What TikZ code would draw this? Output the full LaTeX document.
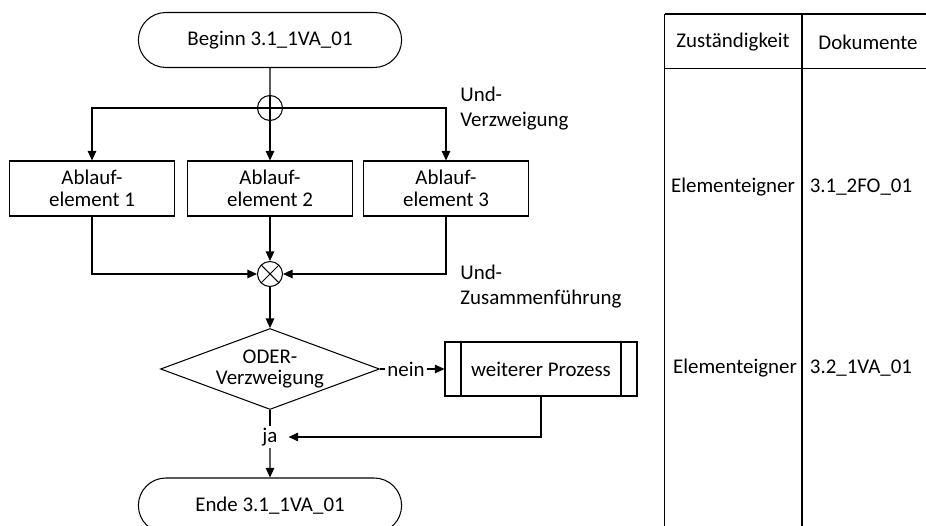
\documentclass[tikz,border=0pt]{standalone}
\usepackage{fontspec}
\setmainfont{Carlito}
\usepackage{tikz}
\usetikzlibrary{calc}
\usetikzlibrary{shapes.geometric,shapes.misc}
\usetikzlibrary{arrows.meta}
\newcommand{\flowfont}{\fontsize{11.9}{12.4}\selectfont}
\newcommand{\remarkfont}{\fontsize{11.9}{14.2}\selectfont}
\tikzset{
    flow/.style={line width=0.6pt},
    arr/.style={flow,-{Triangle[length=0.19cm,width=0.17cm]}},
    terminal/.style={draw,flow,rounded rectangle,minimum width=5.5cm,minimum height=1.1cm},
    element/.style={draw,flow,rectangle,align=center,minimum width=3.3cm,minimum height=1.1cm},
    junction/.style={draw,flow,circle,minimum size=0.5cm,inner sep=0pt},
    plusmark/.style={path picture={
        \draw[flow] (path picture bounding box.north) -- (path picture bounding box.south);
        \draw[flow] (path picture bounding box.west) -- (path picture bounding box.east);}},
    crossmark/.style={path picture={
        \draw[flow] (path picture bounding box.north west) -- (path picture bounding box.south east);
        \draw[flow] (path picture bounding box.south west) -- (path picture bounding box.north east);}},
    decision/.style={draw,flow,diamond,aspect=2.7,inner sep=-1.5pt,align=center,minimum width=4.38cm,minimum height=1.62cm},
    subproc/.style={draw,flow,rectangle,minimum width=3.84cm,minimum height=1.08cm,path picture={
        \draw[flow] ([xshift=0.32cm]path picture bounding box.north west) -- ([xshift=0.32cm]path picture bounding box.south west);
        \draw[flow] ([xshift=-0.32cm]path picture bounding box.north east) -- ([xshift=-0.32cm]path picture bounding box.south east);}},
    tag/.style={inner sep=1pt},
    remark/.style={anchor=west,align=left,inner sep=0pt,font=\remarkfont},
    tableline/.style={line width=1.1pt}
}

\begin{document}
\begin{tikzpicture}[x=0.02cm,y=-0.02cm,font=\flowfont]
\useasboundingbox (0,0) rectangle (926,526);
\node[terminal] (start) at (270,40) {Beginn 3.1\_1VA\_01};
\node[junction,plusmark] (split) at (270,108) {};
\node[element] (el1) at (92,188.5) {Ablauf-\\element 1};
\node[element] (el2) at (270,188.5) {Ablauf-\\element 2};
\node[element] (el3) at (446,188.5) {Ablauf-\\element 3};
\node[junction,crossmark] (merge) at (270,274) {};
\node[remark] (andsplit) at (460,108.5) {Und-\\Verzweigung};
\node[remark] (andjoin) at (460,286.5) {Und-\\Zusammenführung};
\node[decision] (oder) at (270,369) {ODER-\\Verzweigung};
\node[subproc] (further) at (541,369) {weiterer Prozess};
\node[tag] (nein) at (406,369) {nein};
\node[tag] (ja) at (270,437) {ja};
\node[terminal] (end) at (270,505.5) {Ende 3.1\_1VA\_01};
\draw[flow] (start) -- (split);
\draw[arr] (split.west) -| (el1);
\draw[arr] (split) -- (el2);
\draw[arr] (split.east) -| (el3);
\draw[arr] (el1) |- (merge);
\draw[arr] (el2) -- (merge);
\draw[arr] (el3) |- (merge);
\draw[arr] (merge) -- (oder);
\draw[flow] (oder) -- (nein);
\draw[arr] (nein) -- (further);
\draw[flow] (oder) -- (ja);
\draw[arr] (ja) -- (end);
\draw[arr] (further) |- ([xshift=0.18cm]ja.east);
\draw[tableline] (664.5,14) -- (926,14);
\draw[tableline] (664.5,68.5) -- (926,68.5);
\draw[tableline] (664.5,14) -- (664.5,526);
\draw[tableline] (802,14) -- (802,526);
\node (role) at (733,42) {Zuständigkeit};
\node (docs) at (868,42) {Dokumente};
\node (roleA) at (733,187) {Elementeigner};
\node (docA) at (861,187) {3.1\_2FO\_01};
\node (roleB) at (735,368) {Elementeigner};
\node (docB) at (861,368) {3.2\_1VA\_01};
\end{tikzpicture}
\end{document}
